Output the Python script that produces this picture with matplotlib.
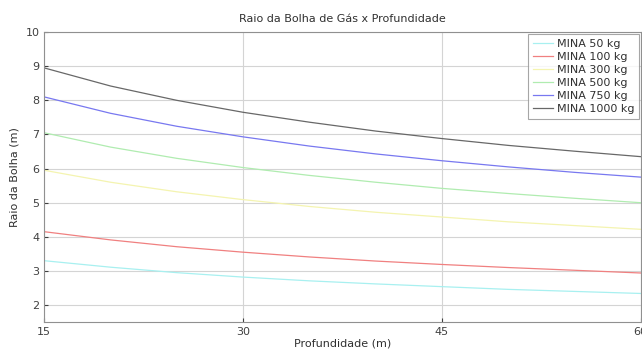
import numpy as np
import matplotlib
matplotlib.use("Agg")
import matplotlib.pyplot as plt

plt.rcParams['font.family'] = ['DejaVu Sans']

# depth (m) and bubble radius (m)
depth = [15, 20, 25, 30, 35, 40, 45, 50, 55, 60]
r_50 = [3.30, 3.11, 2.95, 2.82, 2.71, 2.62, 2.54, 2.46, 2.40, 2.34]
r_100 = [4.15, 3.91, 3.71, 3.55, 3.41, 3.29, 3.19, 3.10, 3.02, 2.94]
r_300 = [5.95, 5.60, 5.32, 5.09, 4.89, 4.72, 4.58, 4.44, 4.33, 4.22]
r_500 = [7.05, 6.63, 6.30, 6.03, 5.80, 5.60, 5.42, 5.27, 5.13, 5.00]
r_750 = [8.10, 7.62, 7.24, 6.93, 6.66, 6.43, 6.23, 6.05, 5.89, 5.75]
r_1000 = [8.95, 8.42, 8.00, 7.65, 7.36, 7.10, 6.88, 6.68, 6.51, 6.35]

labels = ["MINA 50 kg", "MINA 100 kg", "MINA 300 kg",
          "MINA 500 kg", "MINA 750 kg", "MINA 1000 kg"]
series = [r_50, r_100, r_300, r_500, r_750, r_1000]
colors = ["#a8f0f0", "#f08080", "#f4f4b0", "#b0ecb0", "#7878f0", "#686868"]

x_ticks = [15, 30, 45, 60]
y_ticks = [2, 3, 4, 5, 6, 7, 8, 9, 10]

fig = plt.figure(figsize=(6.42, 3.49), dpi=100)
ax = fig.add_axes([0.069, 0.077, 0.929, 0.831])

for vals, c, lab in zip(series, colors, labels):
    ax.plot(depth, vals, color=c, linewidth=0.9, label=lab)

ax.set_xlim(15, 60)
ax.set_ylim(1.5, 10)
ax.set_xticks(x_ticks)
ax.set_yticks(y_ticks)
ax.grid(True, color="#d4d4d4", linewidth=0.8)
ax.set_axisbelow(True)
ax.tick_params(direction="in", length=3, labelsize=8, colors="#404040")
for s in ax.spines.values():
    s.set_color("#909090")

ax.set_title("Raio da Bolha de Gás x Profundidade", fontsize=8, color="#303030", pad=7)
ax.set_xlabel("Profundidade (m)", fontsize=8, color="#303030", labelpad=1)
ax.set_ylabel("Raio da Bolha (m)", fontsize=8, color="#303030", labelpad=4)

leg = ax.legend(loc="upper right", fontsize=8, frameon=True, fancybox=False,
                handlelength=1.8, handletextpad=0.3, borderpad=0.45,
                labelspacing=0.27, borderaxespad=0.15)
leg.get_frame().set_edgecolor("#909090")
leg.get_frame().set_linewidth(0.8)
for t in leg.get_texts():
    t.set_color("#303030")

fig.savefig("out.png", dpi=100)
